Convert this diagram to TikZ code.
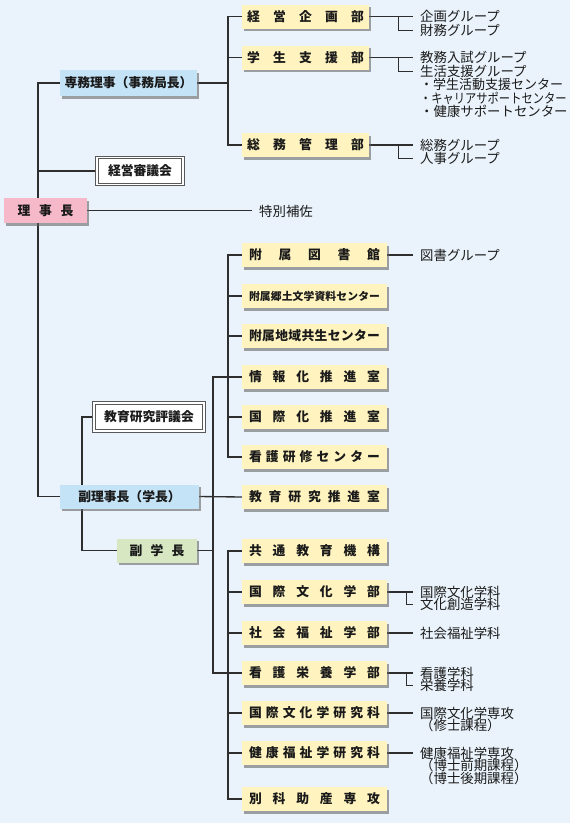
\documentclass[tikz,border=0pt]{standalone}
\usepackage{fontspec}
\setmainfont{Noto Sans CJK JP}
\usetikzlibrary{shadows}
\pgfdeclarelayer{bg}
\pgfsetlayers{bg,main}
\definecolor{bgc}{HTML}{EAF3FB}
\definecolor{yel}{HTML}{FFF4C0}
\definecolor{pinkc}{HTML}{F5B9C9}
\definecolor{bluec}{HTML}{C4E3F6}
\definecolor{greenc}{HTML}{D6E7C1}
\definecolor{linec}{HTML}{2E2E2E}
\definecolor{txt}{HTML}{1A1A1A}
\def\spA#1{#1\spB}
\def\spB#1{\ifx\relax#1\else\hfill#1\expandafter\spB\fi}
\newcommand\sprd[2]{\hbox to #1{\spA#2\relax}}
\begin{document}
\begin{tikzpicture}[x=1pt,y=-1pt,
 box/.style={inner sep=0pt, text=txt, font=\bfseries\fontsize{12.8}{13}\selectfont,
   drop shadow={shadow xshift=2pt, shadow yshift=-2.5pt, fill=black!60, opacity=.6}},
 ubox/.style={box, fill=yel, minimum width=127pt, minimum height=24pt},
 lbox/.style={box, fill=yel, minimum width=145pt, minimum height=24pt},
 dbox/.style={inner sep=0pt, fill=white, draw=black!65, line width=0.9pt, double=white,
   double distance=1.3pt, text=txt, font=\bfseries\fontsize{12.8}{13}\selectfont},
 grp/.style={anchor=west, inner xsep=7pt, inner ysep=0pt, text=txt, font=\fontsize{13.4}{13}\selectfont},
 conn/.style={draw=linec, line width=1.35pt},
 brk/.style={draw=linec, line width=1pt},
]
\useasboundingbox (0,0) rectangle (570,823);
% left column
\node[box, fill=pinkc, minimum width=83pt, minimum height=25pt] (rij) at (45.5,210.5) {\sprd{56pt}{理事長}};
\node[box, fill=bluec, minimum width=137pt, minimum height=26pt] (senmu) at (128.5,83) {専務理事（事務局長）};
\node[dbox, minimum width=86pt, minimum height=27pt] (keiei) at (140,171) {経営審議会};
\node[grp] (toku) at (252,211) {特別補佐};
\node[dbox, minimum width=110pt, minimum height=28pt] (kyoiku) at (149,417) {教育研究評議会};
\node[box, fill=bluec, minimum width=139pt, minimum height=24pt] (fukuriji) at (129.5,496.5) {副理事長（学長）};
\node[box, fill=greenc, minimum width=80pt, minimum height=24pt] (fukugaku) at (157,550.5) {\sprd{55pt}{副学長}};
% upper boxes
\node[ubox] (ub1) at (305.5,16.5) {\sprd{117pt}{経営企画部}};
\node[ubox] (ub2) at (305.5,57.5) {\sprd{117pt}{学生支援部}};
\node[ubox] (ub3) at (305.5,145) {\sprd{117pt}{総務管理部}};
% lower boxes
\node[lbox] (lb1) at (314.5,255) {\sprd{131pt}{附属図書館}};
\node[lbox] (lb2) at (314.5,296) {\fontsize{10.8}{11}\selectfont\sprd{131pt}{附属郷土文学資料センター}};
\node[lbox] (lb3) at (314.5,336) {\sprd{131pt}{附属地域共生センター}};
\node[lbox] (lb4) at (314.5,377) {\sprd{131pt}{情報化推進室}};
\node[lbox] (lb5) at (314.5,417) {\sprd{131pt}{国際化推進室}};
\node[lbox] (lb6) at (314.5,457) {\sprd{131pt}{看護研修センター}};
\node[lbox] (lb7) at (314.5,497) {\sprd{131pt}{教育研究推進室}};
\node[lbox] (lb8) at (314.5,551) {\sprd{131pt}{共通教育機構}};
\node[lbox] (lb9) at (314.5,592) {\sprd{131pt}{国際文化学部}};
\node[lbox] (lb10) at (314.5,633) {\sprd{131pt}{社会福祉学部}};
\node[lbox] (lb11) at (314.5,673) {\sprd{131pt}{看護栄養学部}};
\node[lbox] (lb12) at (314.5,713) {\sprd{131pt}{国際文化学研究科}};
\node[lbox] (lb13) at (314.5,753) {\sprd{131pt}{健康福祉学研究科}};
\node[lbox] (lb14) at (314.5,799) {\sprd{131pt}{別科助産専攻}};
% upper groups
\node[grp] (g1a) at (413,16.5) {企画グループ};
\node[grp] (g1b) at (413,30) {財務グループ};
\node[grp] (g2a) at (413,57.5) {教務入試グループ};
\node[grp] (g2b) at (413,71) {生活支援グループ};
\node[grp] (g2c) at (413,84.5) {\scalebox{0.97}[1]{・学生活動支援センター}};
\node[grp] (g2d) at (413,98) {\scalebox{0.84}[1]{・キャリアサポートセンター}};
\node[grp] (g2e) at (413,111.5) {・健康サポートセンター};
\node[grp] (g3a) at (413,145) {総務グループ};
\node[grp] (g3b) at (413,158) {人事グループ};
% lower groups
\node[grp] (h1) at (413,255) {図書グループ};
\node[grp] (h9a) at (413,592) {国際文化学科};
\node[grp] (h9b) at (413,604.5) {文化創造学科};
\node[grp] (h10) at (413,633) {社会福祉学科};
\node[grp] (h11a) at (413,673) {看護学科};
\node[grp] (h11b) at (413,685.5) {栄養学科};
\node[grp] (h12a) at (413,713) {国際文化学専攻};
\node[grp] (h12b) at (413,725.5) {（修士課程）};
\node[grp] (h13a) at (413,753) {健康福祉学専攻};
\node[grp] (h13b) at (413,765.5) {（博士前期課程）};
\node[grp] (h13c) at (413,778) {（博士後期課程）};
\begin{pgfonlayer}{bg}
\fill[bgc] (0,0) rectangle (570,823);
\coordinate (tr) at (38,0);
\coordinate (u) at (228,0);
\coordinate (v) at (213,0);
\coordinate (w) at (82,0);
\coordinate (ku) at (398,0);
\coordinate (kl) at (406,0);
% main trunk
\draw[conn] (senmu.west) -| (tr |- fukuriji.west) -- (fukuriji.west);
\draw[conn] (keiei.west) -- (keiei.west -| tr);
\draw[conn] (rij.east) -- (rij.east -| toku.west);
% upper branch
\draw[conn] (senmu.east) -- (senmu.east -| u);
\draw[conn] (ub1.west) -| (u |- ub3.west) -- (ub3.west);
\draw[conn] (ub2.west) -- (ub2.west -| u);
% lower branches
\draw[conn] (lb1.west) -| (u |- lb6.west) -- (lb6.west);
\draw[conn] (lb2.west) -- (lb2.west -| u);
\draw[conn] (lb3.west) -- (lb3.west -| u);
\draw[conn] (lb5.west) -- (lb5.west -| u);
\draw[conn] (lb4.west) -| (v |- lb11.west) -- (lb11.west);
\draw[conn] (fukuriji.east) -- (lb7.west);
\draw[conn] (fukugaku.east) -- (fukugaku.east -| v);
\draw[conn] (lb8.west) -| (u |- lb14.west) -- (lb14.west);
\draw[conn] (lb9.west) -- (lb9.west -| u);
\draw[conn] (lb10.west) -- (lb10.west -| u);
\draw[conn] (lb12.west) -- (lb12.west -| u);
\draw[conn] (lb13.west) -- (lb13.west -| u);
% vice line
\draw[conn] (kyoiku.west) -| (w |- fukugaku.west) -- (fukugaku.west);
% groups upper
\draw[conn] (ub1.east) -- (ub1.east -| g1a.west);
\draw[brk] (ku |- ub1.east) |- (g1b.west);
\draw[conn] (ub2.east) -- (ub2.east -| g2a.west);
\draw[brk] (ku |- ub2.east) |- (g2b.west);
\draw[conn] (ub3.east) -- (ub3.east -| g3a.west);
\draw[brk] (ku |- ub3.east) |- (g3b.west);
% groups lower
\draw[conn] (lb1.east) -- (lb1.east -| h1.west);
\draw[conn] (lb9.east) -- (lb9.east -| h9a.west);
\draw[brk] (kl |- lb9.east) |- (h9b.west);
\draw[conn] (lb10.east) -- (lb10.east -| h10.west);
\draw[conn] (lb11.east) -- (lb11.east -| h11a.west);
\draw[brk] (kl |- lb11.east) |- (h11b.west);
\draw[conn] (lb12.east) -- (lb12.east -| h12a.west);
\draw[conn] (lb13.east) -- (lb13.east -| h13a.west);
\end{pgfonlayer}
\end{tikzpicture}
\end{document}
